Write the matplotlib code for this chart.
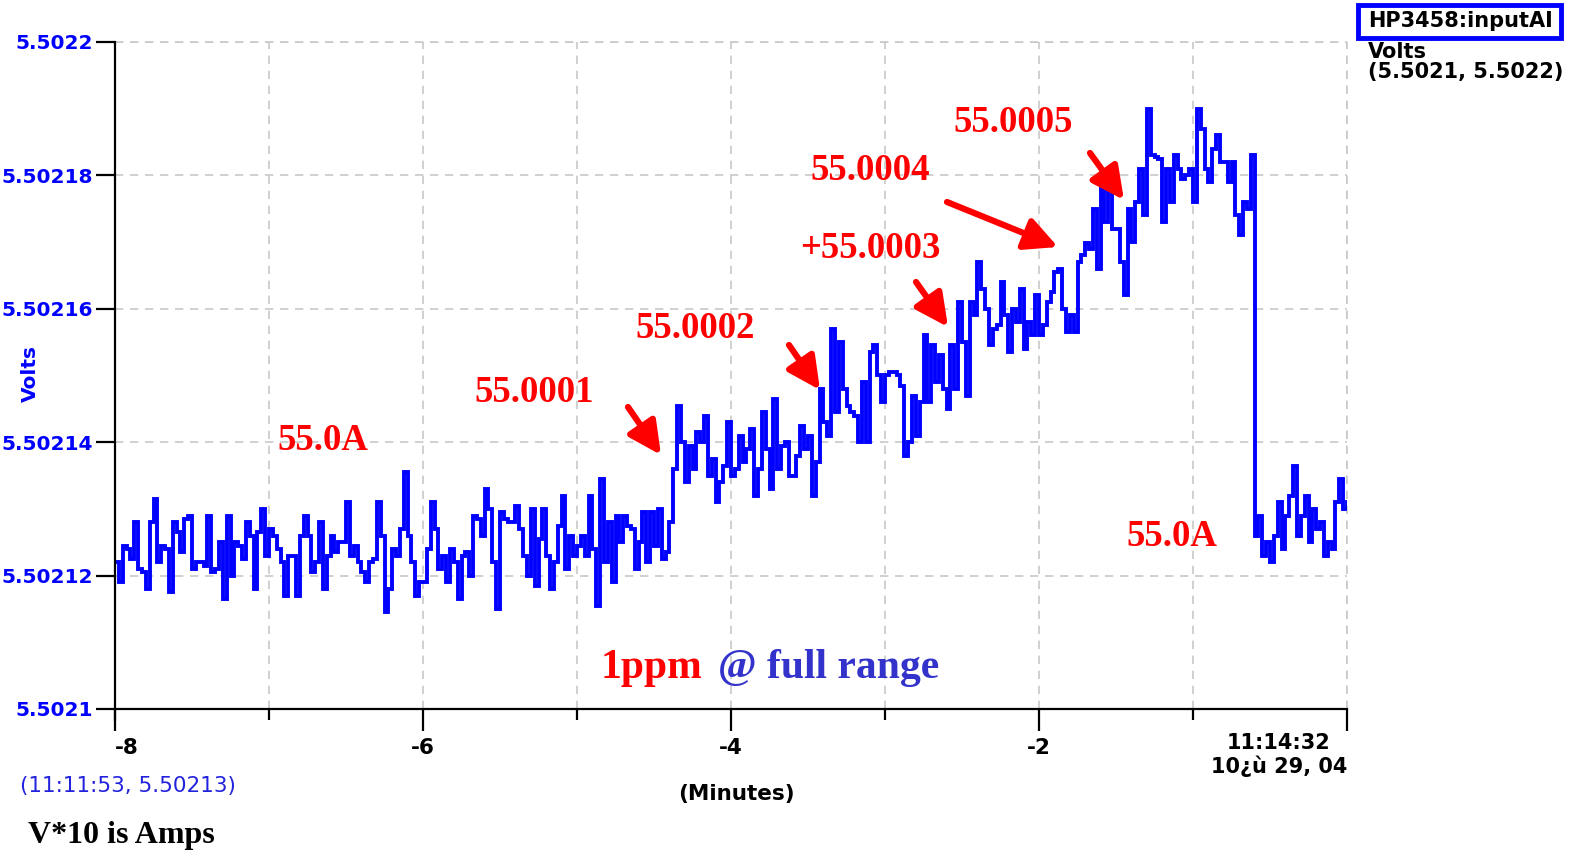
import numpy as np
import matplotlib
matplotlib.use("Agg")
import matplotlib.pyplot as plt
from matplotlib.patches import Rectangle, FancyArrowPatch

# ---------------- data ----------------
# HP3458 reading, offset above 5.5021 V in units of 1e-5 V, 40 samples per minute from -8 to 0 min
min_m8 = [2.2, 1.9, 2.45, 2.4, 2.25, 2.8, 2.1, 2.05, 1.8, 2.8, 3.15, 2.2, 2.45, 2.4, 1.75, 2.8, 2.65, 2.35, 2.85, 2.9,
          2.1, 2.2, 2.2, 2.15, 2.9, 2.05, 2.1, 2.5, 1.65, 2.9, 2.0, 2.5, 2.45, 2.25, 2.8, 2.6, 1.8, 2.65, 3.0, 2.3]
min_m7 = [2.7, 2.6, 2.4, 2.2, 1.7, 2.3, 2.3, 1.7, 2.6, 2.9, 2.6, 2.05, 2.2, 2.8, 1.8, 2.3, 2.6, 2.35, 2.5, 2.5,
          3.1, 2.3, 2.45, 2.2, 2.05, 1.9, 2.2, 2.25, 3.1, 2.6, 1.45, 1.8, 2.4, 2.3, 2.7, 3.55, 2.6, 2.2, 1.7, 1.9]
min_m6 = [1.9, 2.4, 3.1, 2.7, 2.1, 2.3, 1.9, 2.4, 2.2, 1.65, 2.3, 2.35, 2.0, 2.9, 2.85, 2.6, 3.3, 3.0, 2.2, 1.5,
          2.95, 2.85, 2.8, 2.8, 3.05, 2.7, 2.3, 2.0, 3.0, 1.85, 2.55, 3.0, 2.3, 1.8, 2.2, 2.75, 3.2, 2.1, 2.6, 2.3]
min_m5 = [2.45, 2.6, 2.3, 3.2, 2.4, 1.55, 3.45, 2.2, 2.8, 1.9, 2.9, 2.5, 2.9, 2.75, 2.7, 2.1, 2.5, 2.95, 2.2, 2.95,
          2.45, 3.0, 2.25, 2.35, 2.8, 3.6, 4.55, 4.0, 3.4, 3.95, 3.6, 4.15, 4.0, 4.4, 3.5, 3.75, 3.1, 3.4, 3.65, 4.3]
min_m4 = [3.5, 3.6, 4.1, 3.7, 3.9, 4.2, 3.2, 3.6, 4.45, 3.9, 3.3, 4.65, 3.6, 3.95, 4.0, 3.5, 3.5, 3.8, 4.25, 3.9,
          4.1, 3.2, 3.7, 4.8, 4.3, 4.1, 5.7, 4.45, 5.5, 4.8, 4.55, 4.45, 4.4, 4.0, 4.9, 4.0, 5.35, 5.45, 5.0, 4.6]
min_m3 = [5.0, 5.05, 5.05, 5.0, 4.85, 3.8, 4.0, 4.7, 4.1, 4.6, 5.6, 4.6, 5.45, 4.9, 5.3, 4.8, 4.5, 5.45, 4.8, 6.1,
          5.5, 4.7, 6.1, 5.9, 6.7, 6.3, 6.0, 5.45, 5.7, 5.75, 6.4, 5.9, 5.35, 6.0, 5.8, 6.3, 5.4, 5.8, 5.6, 6.2]
min_m2 = [5.6, 5.75, 6.1, 6.25, 6.55, 6.6, 6.0, 5.65, 5.9, 5.65, 6.7, 6.8, 6.98, 6.9, 7.5, 6.6, 8.0, 7.3, 7.8, 7.2,
          7.2, 6.7, 6.2, 7.5, 7.0, 7.6, 8.1, 7.4, 9.0, 8.3, 8.28, 8.25, 7.3, 8.1, 7.6, 8.3, 8.1, 7.95, 8.0, 8.1]
min_m1 = [7.6, 9.0, 8.7, 8.1, 7.9, 8.4, 8.6, 8.2, 8.2, 7.9, 8.2, 7.4, 7.1, 7.6, 7.5, 8.3, 2.6, 2.9, 2.3, 2.5,
          2.2, 2.6, 3.1, 2.4, 2.9, 3.2, 3.65, 2.6, 2.9, 3.2, 2.5, 3.0, 2.7, 2.8, 2.3, 2.5, 2.4, 3.1, 3.45, 3.0, 3.1]

base_volts = 5.5021
offsets = np.array(min_m8 + min_m7 + min_m6 + min_m5 + min_m4 + min_m3 + min_m2 + min_m1)
volts = base_volts + offsets * 1e-5
minutes = np.linspace(-8, 0, len(volts))

y_ticks = [5.5021, 5.50212, 5.50214, 5.50216, 5.50218, 5.5022]
y_tick_labels = ["5.5021", "5.50212", "5.50214", "5.50216", "5.50218", "5.5022"]
x_major = [-8, -6, -4, -2, 0]
x_major_labels = ["-8", "-6", "-4", "-2", ""]
x_minor = [-7, -5, -3, -1]

notes = ["55.0A", "55.0001", "55.0002", "+55.0003", "55.0004", "55.0005", "55.0A"]

# ---------------- figure ----------------
W, H = 1574, 856
fig = plt.figure(figsize=(W / 100, H / 100), dpi=100)

def P(x, y):
    return (x / W, 1 - y / H)

ax = fig.add_axes([115 / W, 1 - 709 / H, 1232 / W, 667 / H])
ax.plot(minutes, volts, color="#0000ff", lw=2.8, drawstyle="steps-post", solid_joinstyle="miter")
ax.set_xlim(-8, 0)
ax.set_ylim(5.5021, 5.5022)

for s in ["top", "right"]:
    ax.spines[s].set_visible(False)
ax.spines["left"].set_linewidth(1.6)
ax.spines["bottom"].set_linewidth(1.6)
ax.spines["left"].set_bounds(5.5021 - 0.0000016, 5.5022)

ax.set_yticks(y_ticks)
ax.set_yticklabels(y_tick_labels, color="#0000ff", fontsize=14.5, fontweight="bold", family="DejaVu Sans")
ax.set_xticks(x_major)
ax.set_xticklabels(x_major_labels, fontsize=15.5, fontweight="bold", family="DejaVu Sans")
ax.set_xticks(x_minor, minor=True)
ax.tick_params(axis="y", length=14, width=1.6, pad=2)
ax.tick_params(axis="x", which="major", length=16, width=1.6, pad=5)
ax.tick_params(axis="x", which="minor", length=8, width=1.6)
ax.get_xticklabels()[0].set_horizontalalignment("left")

ax.grid(True, which="both", color="#c8c8c8", ls=(0, (5, 4)), lw=1.2)
ax.set_axisbelow(True)
ax.axhline(5.5022, color="#c8c8c8", ls=(0, (5, 4)), lw=1.2, zorder=0, clip_on=False)
ax.axvline(0, color="#c8c8c8", ls=(0, (5, 4)), lw=1.2, zorder=0, clip_on=False)

fig.text(*P(30, 373), "Volts", rotation=90, color="#0000ff", fontsize=14.5, fontweight="bold",
         ha="center", va="center", family="DejaVu Sans")
fig.text(*P(736, 794), "(Minutes)", fontsize=15.5, fontweight="bold", ha="center", va="center", family="DejaVu Sans")
fig.text(*P(1279, 755), "11:14:32\n10¿ù 29, 04", fontsize=15, fontweight="bold", ha="center", va="center",
         family="DejaVu Sans", linespacing=1.1)
fig.text(*P(20, 786), "(11:11:53, 5.50213)", fontsize=15.5, color="#2222dd", ha="left", va="center",
         family="DejaVu Sans")
fig.text(*P(28, 836), "V*10 is Amps", fontsize=23, fontweight="bold", ha="left", va="center",
         family="Liberation Serif")

# legend box at top right
fig.patches.append(Rectangle(P(1358, 38), 203 / W, 33 / H, transform=fig.transFigure,
                             facecolor="white", edgecolor="#0000ff", lw=3.5))
fig.text(*P(1460, 21), "HP3458:inputAI", fontsize=15, fontweight="bold", ha="center", va="center",
         family="DejaVu Sans")
fig.text(*P(1368, 62), "Volts\n(5.5021, 5.5022)", fontsize=15, fontweight="bold", ha="left", va="center",
         family="DejaVu Sans", linespacing=1.0)

# red annotations
note_pos = [(323, 441), (534, 393), (695, 329), (870, 249), (870, 170), (1013, 122), (1172, 537)]
for t, (x, y) in zip(notes, note_pos):
    fig.text(*P(x, y), t, color="red", fontsize=26.5, fontweight="bold", ha="center", va="center",
             family="Liberation Serif")

arrows = [((628, 407), (661, 455)), ((789, 345), (820, 390)), ((916, 282), (948, 327)),
          ((947, 202), (1058, 247)), ((1090, 153), (1124, 200))]
for (x0, y0), (x1, y1) in arrows:
    fig.add_artist(FancyArrowPatch(P(x0, y0), P(x1, y1), transform=fig.transFigure,
                   arrowstyle="-|>,head_length=0.9,head_width=0.45", mutation_scale=22, color="red", lw=4.5,
                   shrinkA=0, shrinkB=0))

fig.text(*P(601, 668), "1ppm", color="red", fontsize=30, fontweight="bold", ha="left", va="center",
         family="Liberation Serif")
fig.text(*P(718, 668), "@ full range", color="#3333cc", fontsize=30, fontweight="bold", ha="left", va="center",
         family="Liberation Serif")

fig.savefig("out.png", dpi=100, facecolor="white")
